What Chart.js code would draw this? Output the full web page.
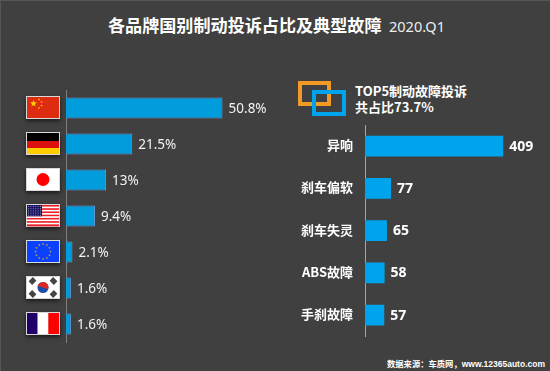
<!DOCTYPE html>
<html>
<head>
<meta charset="utf-8">
<script src="https://cdn.jsdelivr.net/npm/chart.js@4"></script>
<style>
    html, body { margin: 0; padding: 0; background: #404040; }
    #page { position: relative; width: 550px; height: 371px; overflow: hidden; background: #404040; color: #fff;
        box-sizing: border-box; border-top: 1px solid #565656; border-left: 1px solid #565656;
        font-family: "Noto Sans CJK SC", "Noto Sans", sans-serif; }
    #page > * { position: absolute; }
    #title { left: 107px; top: 11px; font-size: 17.1px; line-height: 26px; font-weight: 700; white-space: nowrap; }
    #quarter { left: 388px; top: 13px; font-family: "Noto Sans", sans-serif; font-size: 14.5px; line-height: 24px; color: #eee; white-space: nowrap; }
    #note { left: 354px; top: 82px; font-size: 13px; line-height: 15.5px; font-weight: 700; white-space: nowrap; }
    #source { right: 5px; top: 356px; font-size: 8.3px; line-height: 13px; font-weight: 700; white-space: nowrap; }
    #source span { font-size: 8.5px; font-family: "Liberation Sans", sans-serif; }
    .box { box-sizing: border-box; background: transparent; }
    #boxOrange { left: 297px; top: 80px; width: 33px; height: 25px; border: 4px solid #f39a26; }
    #boxBlue { left: 311px; top: 89px; width: 34px; height: 26px; border: 4px solid #00a4ec; }
    #brandCanvas { left: -1px; top: 79px; }
    #faultCanvas { left: 289px; top: 114px; }
</style>
</head>
<body>
<div id="page">
    <div id="title">各品牌国别制动投诉占比及典型故障</div>
    <div id="quarter">2020.Q1</div>
    <div class="box" id="boxOrange"></div>
    <div class="box" id="boxBlue"></div>
    <div id="note">TOP5制动故障投诉<br>共占比73.7%</div>
    <canvas id="brandCanvas" width="290" height="270"></canvas>
    <canvas id="faultCanvas" width="260" height="235"></canvas>
    <div id="source">数据来源：车质网，<span>www.12365auto.com</span></div>
</div>
<script>
    // Left chart: share of complaints by brand country
    const countries = ['China', 'Germany', 'Japan', 'USA', 'EU', 'Korea', 'France'];
    const countryShares = [50.8, 21.5, 13, 9.4, 2.1, 1.6, 1.6];

    // Right chart: top 5 brake faults
    const faultNames = ['异响', '刹车偏软', '刹车失灵', 'ABS故障', '手刹故障'];
    const faultCounts = [409, 77, 65, 58, 57];

    // Flag painters, each one fills a w x h box starting at x, y
    const flagPainters = {
        China: function(ctx, x, y, w, h) {
            ctx.fillStyle = '#de2c10';
            ctx.fillRect(x, y, w, h);
            star(ctx, x + 6.5, y + 6.5, 3.6, '#ffd000');
            [[12, 2.5], [14.5, 5], [14.5, 8.5], [12, 11]].forEach(function(p) {
                star(ctx, x + p[0], y + p[1], 1.3, '#ffc000');
            });
        },
        Germany: function(ctx, x, y, w, h) {
            ctx.fillStyle = '#000';
            ctx.fillRect(x, y, w, h / 3 + 1);
            ctx.fillStyle = '#dd1010';
            ctx.fillRect(x, y + h / 3 + 1, w, h / 3);
            ctx.fillStyle = '#ffcc00';
            ctx.fillRect(x, y + 2 * h / 3 + 1, w, h / 3 - 1);
        },
        Japan: function(ctx, x, y, w, h) {
            ctx.fillStyle = '#fff';
            ctx.fillRect(x, y, w, h);
            ctx.fillStyle = '#ff0000';
            ctx.beginPath();
            ctx.arc(x + w / 2, y + h / 2, 6.5, 0, Math.PI * 2);
            ctx.fill();
        },
        USA: function(ctx, x, y, w, h) {
            for (let i = 0; i < 13; i++) {
                ctx.fillStyle = i % 2 ? '#fff' : '#ee1c25';
                ctx.fillRect(x, y + i * h / 13, w, h / 13 + 0.3);
            }
            ctx.fillStyle = '#1b1464';
            ctx.fillRect(x, y, 15, h * 7 / 13);
            ctx.fillStyle = '#8f8fb0';
            for (let r = 0; r < 5; r++) {
                for (let c = 0; c < 6; c++) {
                    ctx.fillRect(x + 1 + c * 2.4, y + 1 + r * 2.2, 1, 1);
                }
            }
        },
        EU: function(ctx, x, y, w, h) {
            ctx.fillStyle = '#0b40ff';
            ctx.fillRect(x, y, w, h);
            ctx.fillStyle = '#a89c5c';
            for (let i = 0; i < 12; i++) {
                const a = i * Math.PI / 6;
                ctx.fillRect(x + w / 2 + Math.cos(a) * 7.5 - 0.8, y + h / 2 + Math.sin(a) * 7.5 - 0.8, 1.6, 1.6);
            }
        },
        Korea: function(ctx, x, y, w, h) {
            const cx = x + w / 2, cy = y + h / 2;
            ctx.fillStyle = '#fff';
            ctx.fillRect(x, y, w, h);
            ctx.fillStyle = '#1f4ea8';
            ctx.beginPath();
            ctx.arc(cx, cy, 5.5, 0, Math.PI * 2);
            ctx.fill();
            ctx.fillStyle = '#dd2a20';
            ctx.beginPath();
            ctx.arc(cx, cy, 5.5, Math.PI + 0.3, 0.3);
            ctx.fill();
            ctx.fillStyle = '#444';
            [[-10.5, -6.5], [10.5, -6.5], [-10.5, 6.5], [10.5, 6.5]].forEach(function(p) {
                ctx.save();
                ctx.translate(cx + p[0], cy + p[1]);
                ctx.rotate(p[0] * p[1] > 0 ? Math.PI / 4 : -Math.PI / 4);
                ctx.fillRect(-2.5, -3, 5, 6);
                ctx.restore();
            });
        },
        France: function(ctx, x, y, w, h) {
            ctx.fillStyle = '#22006a';
            ctx.fillRect(x, y, w / 3, h);
            ctx.fillStyle = '#fff';
            ctx.fillRect(x + w / 3, y, w / 3, h);
            ctx.fillStyle = '#ff0000';
            ctx.fillRect(x + 2 * w / 3, y, w / 3, h);
        }
    };

    function star(ctx, cx, cy, r, color) {
        ctx.fillStyle = color;
        ctx.beginPath();
        for (let i = 0; i < 10; i++) {
            const a = -Math.PI / 2 + i * Math.PI / 5;
            const rad = i % 2 ? r * 0.42 : r;
            ctx.lineTo(cx + Math.cos(a) * rad, cy + Math.sin(a) * rad);
        }
        ctx.closePath();
        ctx.fill();
    }

    // Draws the flag next to each row of the left chart
    const flagPlugin = {
        id: 'flags',
        afterDraw: function(chart) {
            const ctx = chart.ctx;
            const yScale = chart.scales.y;
            countries.forEach(function(name, i) {
                const x = 27, w = 32, h = 21;
                const y = Math.round(yScale.getPixelForValue(i) - h / 2 - 0.5);
                ctx.save();
                ctx.shadowColor = 'rgba(0,0,0,0.6)';
                ctx.shadowBlur = 4;
                ctx.shadowOffsetY = 2;
                ctx.fillStyle = '#d9d9d9';
                ctx.fillRect(x - 1, y - 1, w + 2, h + 2);
                ctx.restore();
                flagPainters[name](ctx, x, y, w, h);
            });
        }
    };

    // Writes the value at the end of each bar
    const valueLabelPlugin = {
        id: 'valueLabels',
        afterDatasetsDraw: function(chart, args, opts) {
            const ctx = chart.ctx;
            ctx.save();
            ctx.font = opts.font;
            ctx.fillStyle = opts.color;
            ctx.textBaseline = 'middle';
            chart.getDatasetMeta(0).data.forEach(function(bar, i) {
                ctx.fillText(chart.data.datasets[0].data[i] + opts.suffix, bar.x + opts.gap, bar.y + opts.shift);
            });
            ctx.restore();
        }
    };

    new Chart(document.getElementById('brandCanvas'), {
        type: 'bar',
        data: {
            labels: countries,
            datasets: [{
                data: countryShares,
                backgroundColor: '#009cdb',
                borderColor: '#5b9bd5',
                borderWidth: 1,
                barPercentage: 0.59,
                categoryPercentage: 1
            }]
        },
        options: {
            indexAxis: 'y',
            responsive: false,
            animation: false,
            layout: { padding: { left: 66, right: 40, top: 10, bottom: 8 } },
            plugins: {
                legend: { display: false },
                tooltip: { enabled: false },
                valueLabels: { font: '13.5px "Noto Sans"', color: '#f2f2f2', suffix: '%', gap: 6, shift: 1.5 }
            },
            scales: {
                x: { display: false, min: 0, max: 59.7 },
                y: {
                    ticks: { display: false },
                    grid: { display: false, drawTicks: false },
                    border: { color: '#7f7f7f', width: 1 }
                }
            }
        },
        plugins: [flagPlugin, valueLabelPlugin]
    });

    new Chart(document.getElementById('faultCanvas'), {
        type: 'bar',
        data: {
            labels: faultNames,
            datasets: [{
                data: faultCounts,
                backgroundColor: '#00a4ec',
                barPercentage: 0.49,
                categoryPercentage: 1
            }]
        },
        options: {
            indexAxis: 'y',
            responsive: false,
            animation: false,
            layout: { padding: { right: 36, top: 10, bottom: 13.75 } },
            plugins: {
                legend: { display: false },
                tooltip: { enabled: false },
                valueLabels: { font: '700 14px "Noto Sans"', color: '#fff', suffix: '', gap: 6, shift: 0.5 }
            },
            scales: {
                x: { display: false, min: 0, max: 441 },
                y: {
                    // fixed label column, and no extra padding above and below the rows
                    afterFit: function(scale) {
                        scale.width = 75;
                        scale.paddingTop = 0;
                        scale.paddingBottom = 0;
                    },
                    ticks: { color: '#fff', padding: 12, labelOffset: -1, font: { family: '"Noto Sans CJK SC"', size: 13, weight: '700' } },
                    grid: { display: false, drawTicks: false },
                    border: { color: '#a6a6a6', width: 1 }
                }
            }
        },
        plugins: [valueLabelPlugin]
    });
</script>
</body>
</html>
